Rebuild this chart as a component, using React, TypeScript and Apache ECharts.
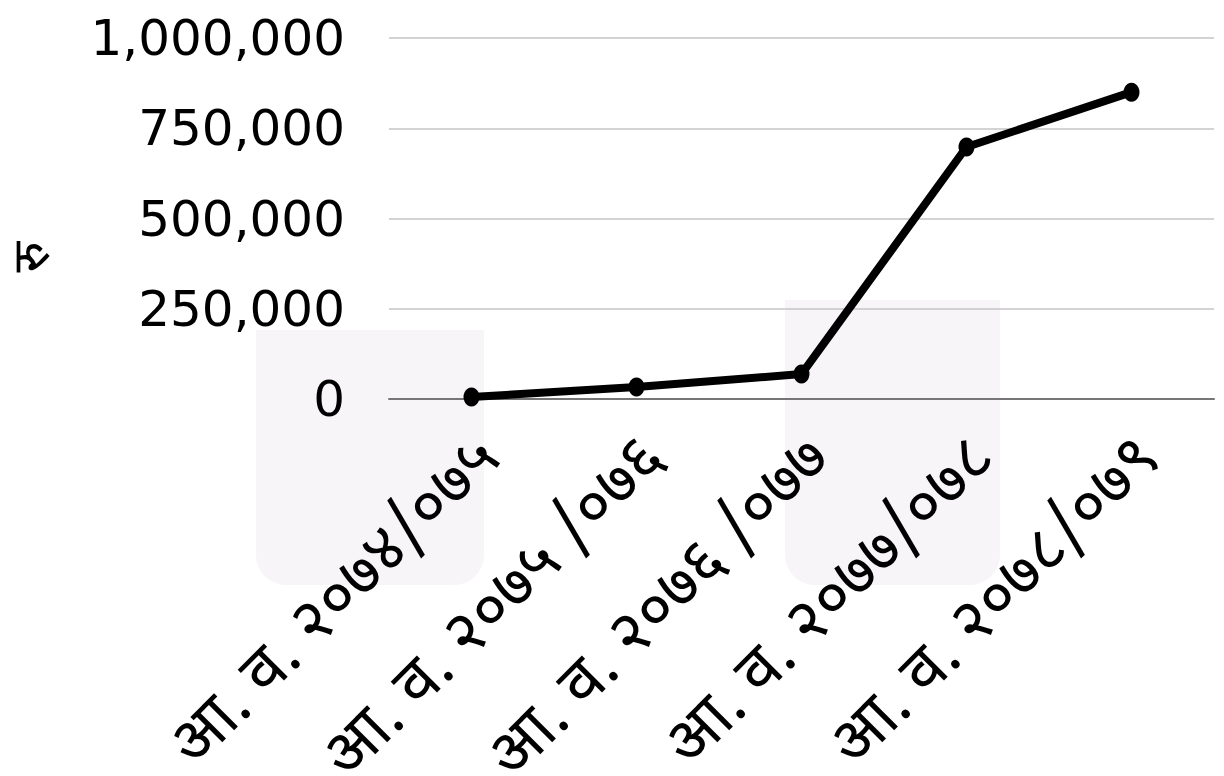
import React, { useEffect, useRef } from "react";
import * as echarts from "echarts";

const categories = [
  "आ. व. २०७४/०७५",
  "आ. व. २०७५ /०७६",
  "आ. व. २०७६ /०७७",
  "आ. व. २०७७/०७८",
  "आ. व. २०७८/०७९",
];
const values = [5500, 33000, 69000, 698000, 850000];
const yTicks = { min: 0, max: 1000000, interval: 250000 };
const yName = "रु";

export default function App() {
  const ref = useRef<HTMLDivElement>(null);
  useEffect(() => {
    if (!ref.current) return;
    const chart = echarts.init(ref.current, null, { renderer: "svg" });
    const devFont = "'Noto Sans Devanagari', 'Lohit Devanagari', 'Nirmala UI', 'DejaVu Sans', sans-serif";
    const wm = "#f8f5f8";
    chart.setOption({
      animation: false,
      backgroundColor: "#ffffff",
      graphic: [
        {
          type: "rect",
          silent: true,
          z: -10,
          shape: { x: 256, y: 330, width: 228, height: 255, r: [0, 0, 30, 30] },
          style: { fill: wm },
        },
        {
          type: "rect",
          silent: true,
          z: -10,
          shape: { x: 785, y: 300, width: 215, height: 285, r: [0, 0, 30, 30] },
          style: { fill: wm },
        },
        {
          type: "text",
          x: 36,
          y: 257,
          rotation: Math.PI / 2,
          style: {
            text: yName,
            fontSize: 52,
            lineHeight: 40,
            fill: "#000",
            fontFamily: devFont,
            align: "center",
            verticalAlign: "middle",
          },
        },
      ],
      grid: { left: 389, right: 10, top: 38, bottom: 377, containLabel: false, outerBoundsMode: "none" },
      xAxis: {
        type: "category",
        data: categories,
        boundaryGap: true,
        axisLine: { show: true, lineStyle: { color: "#767676", width: 2 } },
        axisTick: { show: false },
        axisLabel: {
          interval: 0,
          rotate: 45,
          fontSize: 65,
          lineHeight: 58,
          color: "#000",
          margin: 31,
          verticalAlign: "top",
          fontFamily: devFont,
        },
      },
      yAxis: {
        type: "value",
        min: yTicks.min,
        max: yTicks.max,
        interval: yTicks.interval,
        axisLine: { show: false },
        axisTick: { show: false },
        splitLine: { lineStyle: { color: "#c4c4c4", width: 1.5 } },
        axisLabel: {
          fontSize: 50,
          color: "#000",
          margin: 44,
          fontFamily: "'DejaVu Sans', sans-serif",
          formatter: (v: number) => v.toLocaleString("en-US"),
        },
      },
      series: [
        {
          type: "line",
          data: values,
          color: "#000",
          lineStyle: { color: "#000", width: 8 },
          symbol: "circle",
          symbolSize: [16, 19],
          itemStyle: { color: "#000" },
        },
      ],
    });
    return () => chart.dispose();
  }, []);
  return (
    <div
      ref={ref}
      style={{ position: "absolute", left: 0, top: 0, width: 1224, height: 776 }}
    />
  );
}
